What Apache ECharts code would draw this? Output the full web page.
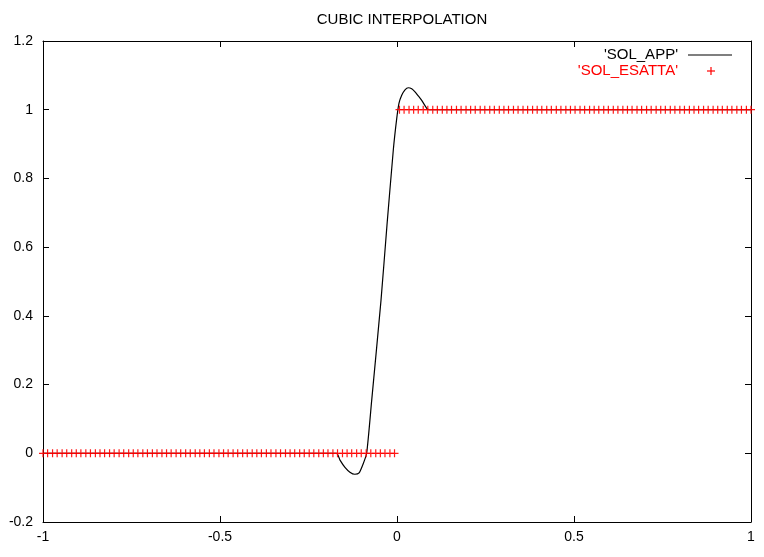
<!DOCTYPE html>
<html>
<head>
<meta charset="utf-8">
<script src="https://cdn.jsdelivr.net/npm/echarts@6/dist/echarts.min.js"></script>
<style>
html,body{margin:0;padding:0;background:#fff;}
#chart{width:764px;height:557px;}
</style>
</head>
<body>
<div id="chart"></div>
<script>
// ---- data ----
var titleText = "CUBIC INTERPOLATION";
var legendApp = "'SOL_APP'";
var legendEsatta = "'SOL_ESATTA'";
var xTicks = [-1, -0.5, 0, 0.5, 1];
var yTicks = [-0.2, 0, 0.2, 0.4, 0.6, 0.8, 1, 1.2];

// approximate (cubic interpolation) solution
var appX = [-1, -0.5, -0.171, -0.161, -0.147, -0.133, -0.119, -0.107, -0.096, -0.0857,
  -0.0715, -0.0452, -0.0283, -0.0105, -0.0008, 0.0057, 0.0133, 0.0226, 0.0319, 0.0416,
  0.0509, 0.0602, 0.0698, 0.084, 0.0905, 0.5, 1];
var appY = [0, 0, 0, -0.020, -0.041, -0.055, -0.061, -0.057, -0.032, 0,
  0.154, 0.445, 0.664, 0.882, 0.974, 1.019, 1.042, 1.058, 1.064, 1.061,
  1.052, 1.040, 1.027, 1.004, 1.0, 1.0, 1.0];

// exact solution samples
var esattaXNeg = [-1.000, -0.987, -0.973, -0.960, -0.946, -0.933, -0.919, -0.906, -0.893, -0.879,
  -0.866, -0.852, -0.839, -0.826, -0.812, -0.799, -0.785, -0.772, -0.758, -0.745,
  -0.732, -0.718, -0.705, -0.691, -0.678, -0.664, -0.651, -0.638, -0.624, -0.611,
  -0.597, -0.584, -0.570, -0.557, -0.544, -0.530, -0.517, -0.503, -0.490, -0.477,
  -0.463, -0.450, -0.436, -0.423, -0.409, -0.396, -0.383, -0.369, -0.356, -0.342,
  -0.329, -0.315, -0.302, -0.289, -0.275, -0.262, -0.248, -0.235, -0.221, -0.208,
  -0.195, -0.181, -0.168, -0.154, -0.141, -0.128, -0.114, -0.101, -0.087, -0.074,
  -0.060, -0.047, -0.034, -0.020, -0.007];
var esattaXPos = [0.007, 0.020, 0.034, 0.047, 0.060, 0.074, 0.087, 0.101, 0.114, 0.128,
  0.141, 0.154, 0.168, 0.181, 0.195, 0.208, 0.221, 0.235, 0.248, 0.262,
  0.275, 0.289, 0.302, 0.315, 0.329, 0.342, 0.356, 0.369, 0.383, 0.396,
  0.409, 0.423, 0.436, 0.450, 0.463, 0.477, 0.490, 0.503, 0.517, 0.530,
  0.544, 0.557, 0.570, 0.584, 0.597, 0.611, 0.624, 0.638, 0.651, 0.664,
  0.678, 0.691, 0.705, 0.718, 0.732, 0.745, 0.758, 0.772, 0.785, 0.799,
  0.812, 0.826, 0.839, 0.852, 0.866, 0.879, 0.893, 0.906, 0.919, 0.933,
  0.946, 0.960, 0.973, 0.987, 1.000];
var esattaLevelNeg = 0;
var esattaLevelPos = 1;

// ---- build ----
var appData = appX.map(function (x, i) { return [x, appY[i]]; });
var esattaData = esattaXNeg.map(function (x) { return [x, esattaLevelNeg]; })
  .concat(esattaXPos.map(function (x) { return [x, esattaLevelPos]; }));

var FONT = '"Liberation Sans", Arial, Helvetica, sans-serif';
var plusPath = 'path://M-0.6,-4 L0.6,-4 L0.6,-0.6 L4,-0.6 L4,0.6 L0.6,0.6 L0.6,4 L-0.6,4 L-0.6,0.6 L-4,0.6 L-4,-0.6 L-0.6,-0.6 Z';

var xMin = xTicks[0], xMax = xTicks[xTicks.length - 1];
var yMin = yTicks[0], yMax = yTicks[yTicks.length - 1];

function axisCommon(extra) {
  var base = {
    type: 'value',
    axisLine: { show: true, onZero: false, lineStyle: { color: '#000', width: 1 } },
    axisTick: { show: true, inside: true, length: 6, lineStyle: { color: '#000', width: 1 } },
    splitLine: { show: false },
    axisLabel: { color: '#000', fontSize: 14, fontFamily: FONT, margin: 10 }
  };
  for (var k in extra) base[k] = extra[k];
  return base;
}

var chart = echarts.init(document.getElementById('chart'), null, { renderer: 'canvas' });
chart.setOption({
  backgroundColor: '#fff',
  animation: false,
  title: {
    text: titleText,
    left: 397, top: 7,
    textAlign: 'center',
    textStyle: { color: '#000', fontSize: 15, fontWeight: 'normal', fontFamily: FONT }
  },
  grid: { left: 43, right: 13, top: 41, bottom: 35, containLabel: false },
  xAxis: [
    axisCommon({ min: xMin, max: xMax, interval: 0.5, position: 'bottom',
      axisLabel: { color: '#000', fontSize: 14, fontFamily: FONT, margin: 8 } }),
    axisCommon({ min: xMin, max: xMax, interval: 0.5, position: 'top', axisLabel: { show: false } })
  ],
  yAxis: [
    axisCommon({ min: yMin, max: yMax, interval: 0.2, position: 'left' }),
    axisCommon({ min: yMin, max: yMax, interval: 0.2, position: 'right', axisLabel: { show: false } })
  ],
  series: [
    {
      name: legendApp,
      type: 'line',
      xAxisIndex: 0, yAxisIndex: 0,
      data: appData,
      showSymbol: false,
      smooth: 0.2,
      lineStyle: { color: '#000', width: 1.2 },
      z: 2
    },
    {
      name: legendEsatta,
      type: 'scatter',
      xAxisIndex: 0, yAxisIndex: 0,
      data: esattaData,
      symbol: plusPath,
      symbolSize: 8,
      itemStyle: { color: '#ff0000', opacity: 0.9 },
      z: 3
    }
  ],
  graphic: [
    { type: 'text', style: { text: legendApp, x: 678, y: 55, textAlign: 'right', textVerticalAlign: 'middle', fill: '#000', font: '15px ' + FONT } },
    { type: 'line', shape: { x1: 688, y1: 55, x2: 732, y2: 55 }, style: { stroke: '#000', lineWidth: 1.2 } },
    { type: 'text', style: { text: legendEsatta, x: 678, y: 71, textAlign: 'right', textVerticalAlign: 'middle', fill: '#ff0000', font: '15px ' + FONT } },
    { type: 'line', shape: { x1: 707, y1: 71, x2: 715, y2: 71 }, style: { stroke: '#ff0000', lineWidth: 1.2 } },
    { type: 'line', shape: { x1: 711, y1: 67, x2: 711, y2: 75 }, style: { stroke: '#ff0000', lineWidth: 1.2 } }
  ]
});
</script>
</body>
</html>
